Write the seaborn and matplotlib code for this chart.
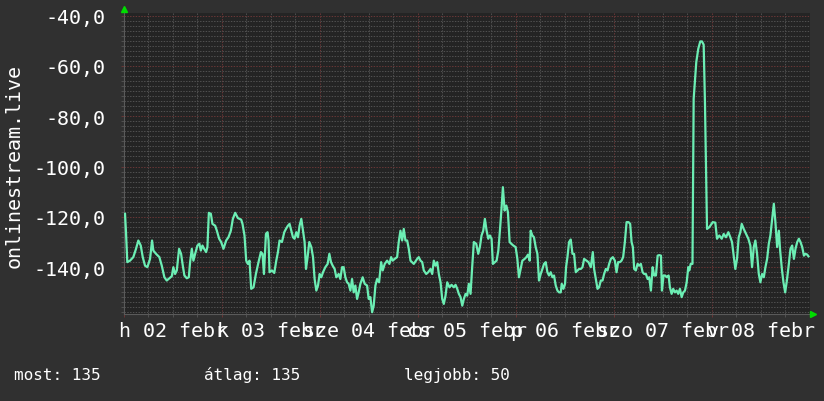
import matplotlib
matplotlib.use("Agg")
import matplotlib.pyplot as plt
from matplotlib.ticker import MultipleLocator, FuncFormatter
import seaborn as sns
import pandas as pd

# hours since Mon 02 Feb 00:00
hours = [
    0.25, 0.49, 0.81, 1.47, 2.28, 2.94, 3.51, 4.10, 4.59, 5.15, 5.72, 6.38, 6.87, 7.19, 7.85,
    8.66, 9.25, 9.89, 10.47, 11.11, 11.70, 12.09, 12.51, 12.93, 13.49, 13.98, 14.40, 14.79,
    15.38, 15.87, 16.19, 16.61, 17.00, 17.42, 17.98, 18.47, 18.81, 19.21, 19.62, 20.11, 20.43,
    20.78, 21.27, 21.66, 22.32, 22.74, 23.30, 23.79, 24.36, 25.02, 25.58, 26.17, 26.66, 27.23,
    27.89, 28.70, 29.02, 29.51, 29.93, 30.34, 30.74, 31.15, 31.72, 32.30, 32.94, 33.53, 33.92,
    34.27, 34.76, 35.15, 35.40, 35.64, 36.23, 36.80, 37.29, 37.70, 38.09, 38.68, 39.25, 39.66,
    40.15, 40.55, 40.96, 41.38, 41.77, 42.19, 42.61, 43.00, 43.42, 43.83, 44.23, 44.57, 44.96,
    45.38, 45.87, 46.29, 46.68, 47.10, 47.51, 47.91, 48.32, 48.74, 49.30, 49.87, 50.29, 50.70,
    51.10, 51.59, 52.00, 52.57, 52.98, 53.40, 53.79, 54.21, 54.63, 55.02, 55.44, 55.85, 56.25,
    56.66, 57.08, 57.47, 57.89, 58.45, 58.94, 59.53, 59.92, 60.34, 60.76, 61.15, 61.57, 61.98,
    62.47, 62.97, 63.36, 63.85, 64.44, 65.00, 65.42, 65.81, 66.30, 66.89, 67.28, 67.70, 68.12,
    68.51, 68.93, 69.35, 69.74, 70.16, 70.97, 71.80, 72.19, 72.61, 73.03, 73.42, 74.01, 74.50,
    75.06, 75.48, 75.87, 76.29, 76.71, 77.10, 77.52, 77.93, 78.32, 78.74, 79.16, 79.72, 80.21,
    80.78, 81.20, 81.61, 82.00, 82.42, 82.84, 83.23, 83.65, 84.06, 84.45, 84.87, 85.29, 85.68,
    86.26, 86.75, 87.15, 87.56, 87.98, 88.38, 88.80, 89.21, 89.60, 90.02, 90.34, 90.83, 91.25,
    91.67, 92.06, 92.48, 92.79, 93.21, 93.63, 94.02, 94.44, 94.86, 95.35, 95.91, 96.33, 96.72,
    97.14, 97.56, 98.12, 98.54, 98.93, 99.35, 99.59, 100.01, 100.40, 100.82, 101.24, 101.63,
    102.05, 102.47, 102.86, 103.28, 103.69, 104.09, 104.50, 104.92, 105.31, 105.73, 106.15,
    106.54, 106.96, 107.20, 107.62, 108.01, 108.26, 108.60, 108.99, 109.41, 109.83, 110.22,
    110.64, 111.06, 111.45, 111.87, 112.28, 112.68, 113.27, 113.76, 114.32, 114.81, 115.13,
    115.55, 115.96, 116.35, 116.77, 117.19, 117.58, 118.00, 118.42, 118.81, 119.23, 119.72,
    120.21, 120.62, 121.01, 121.43, 121.85, 122.24, 122.66, 123.08, 123.57, 123.96, 124.30,
    124.62, 124.94, 125.35, 125.77, 126.16, 126.58, 127.00, 127.39, 127.81, 128.23, 128.62,
    129.04, 129.46, 129.85, 130.27, 130.69, 131.08, 131.50, 131.74, 132.14, 132.53, 132.95,
    133.37, 133.69, 134.11, 134.50, 134.92, 135.34, 135.73, 136.15, 136.57, 136.96, 137.38,
    137.80, 138.19, 138.44, 138.78, 139.22, 139.51, 140.15, 140.64, 141.13, 141.55, 141.96,
    142.28, 142.78, 143.34, 144.18, 144.81, 145.23, 145.79, 146.38, 146.87, 147.43, 148.00,
    148.49, 148.90, 149.32, 149.71, 150.13, 150.54, 150.94, 151.28, 151.77, 152.34, 152.90,
    153.39, 153.81, 154.23, 154.62, 155.04, 155.46, 155.85, 156.27, 156.69, 157.08, 157.50,
    157.91, 158.30, 158.65, 159.14, 159.53, 159.95, 160.37, 160.69, 161.11, 161.50, 161.92,
    162.34, 162.73, 163.22, 163.64, 164.06, 164.45, 164.87, 165.28, 165.67, 166.09, 166.51,
    166.90, 167.32, 167.63,
]
signal = [
    -118.8, -126.1, -138.0, -137.4, -136.0, -132.7, -129.4, -131.4, -136.0, -139.4, -140.0,
    -136.7, -129.4, -133.4, -134.7, -136.0, -139.4, -144.0, -145.3, -144.4, -143.6, -140.0,
    -142.7, -141.3, -132.7, -134.7, -139.4, -143.3, -144.4, -144.0, -138.0, -132.7, -137.4,
    -134.7, -131.4, -130.7, -133.4, -131.4, -132.7, -134.0, -132.0, -118.4, -118.8, -122.8,
    -123.5, -125.5, -128.7, -130.0, -132.7, -129.4, -128.1, -125.5, -120.8, -118.4, -120.5,
    -121.1, -122.8, -127.4, -137.4, -138.7, -137.4, -148.6, -148.0, -142.7, -138.0, -134.0,
    -134.7, -142.7, -126.8, -126.1, -129.4, -142.0, -141.3, -142.3, -137.4, -134.0, -129.4,
    -130.0, -126.1, -124.8, -123.5, -122.8, -125.5, -128.1, -128.7, -126.1, -128.1, -123.5,
    -120.8, -125.5, -130.0, -140.7, -136.0, -130.0, -132.0, -136.0, -144.7, -149.3, -147.3,
    -142.7, -144.0, -142.0, -140.0, -138.7, -134.7, -138.0, -139.4, -140.7, -144.0, -142.7,
    -144.7, -140.0, -140.0, -144.0, -146.0, -146.6, -149.3, -144.7, -150.0, -147.3, -152.6,
    -150.0, -146.6, -144.0, -146.6, -147.3, -152.6, -151.9, -157.9, -155.3, -147.3, -144.7,
    -146.0, -138.0, -141.3, -138.7, -137.4, -138.7, -136.0, -137.4, -136.7, -136.0, -130.0,
    -125.5, -129.4, -124.8, -129.4, -129.4, -132.7, -137.4, -138.7, -136.7, -136.0, -137.4,
    -138.0, -141.3, -142.7, -142.0, -140.7, -142.7, -137.4, -139.4, -138.0, -142.7, -146.0,
    -152.6, -154.6, -151.3, -146.0, -148.0, -147.0, -148.0, -147.0, -148.6, -150.6, -151.9,
    -155.3, -152.6, -150.6, -151.3, -146.6, -150.6, -139.4, -130.0, -130.7, -134.7, -132.0,
    -127.4, -125.5, -120.8, -125.5, -128.7, -127.4, -128.7, -138.7, -138.0, -137.4, -133.4,
    -125.5, -116.1, -108.2, -117.5, -115.5, -118.1, -130.0, -130.7, -131.4, -132.0, -136.7,
    -144.0, -140.7, -137.4, -136.7, -136.0, -135.0, -137.4, -125.5, -127.4, -128.1, -132.0,
    -134.7, -145.3, -142.7, -140.7, -138.7, -138.0, -142.0, -143.3, -142.0, -144.0, -143.3,
    -147.3, -149.3, -150.0, -150.0, -146.6, -148.6, -146.6, -140.0, -136.0, -130.0, -129.0,
    -134.7, -134.7, -142.0, -141.3, -140.7, -140.7, -140.0, -136.7, -137.4, -138.0, -140.0,
    -134.0, -140.7, -144.7, -148.6, -148.0, -145.3, -145.3, -142.7, -140.7, -141.3, -138.7,
    -136.7, -136.0, -137.4, -142.0, -138.0, -138.0, -137.4, -136.0, -130.0, -122.1, -122.1,
    -122.8, -130.0, -132.0, -140.7, -141.3, -138.7, -139.4, -138.7, -142.0, -142.7, -142.7,
    -144.7, -144.0, -149.3, -140.0, -143.3, -143.3, -135.4, -135.2, -135.4, -149.3, -143.3,
    -143.3, -144.0, -143.3, -148.0, -150.6, -148.6, -150.0, -149.3, -150.6, -148.6, -151.9,
    -150.0, -149.3, -146.0, -140.0, -141.3, -138.7, -138.7, -73.1, -58.5, -53.2, -50.3,
    -50.3, -51.6, -75.0, -124.8, -124.1, -122.1, -122.3, -128.7, -127.4, -128.7, -126.8,
    -128.1, -126.1, -128.1, -130.0, -135.4, -140.7, -136.7, -128.1, -126.1, -122.8, -124.8,
    -126.8, -128.7, -131.4, -140.0, -132.0, -129.4, -134.7, -142.7, -146.0, -142.7, -144.0,
    -140.0, -136.7, -130.7, -127.4, -122.1, -114.8, -122.1, -132.0, -125.5, -133.4, -140.7,
    -146.0, -150.0, -145.3, -140.0, -132.7, -131.4, -136.7, -132.7, -130.0, -128.7, -130.0,
    -132.0, -135.4, -134.7, -135.0, -135.7,
]
day_labels = ["h 02 febr", "k 03 febr", "sze 04 febr", "cs 05 febr",
              "p 06 febr", "szo 07 febr", "v 08 febr"]
legend_texts = ["most: 135", "átlag: 135", "legjobb: 50"]
ylabel = "onlinestream.live"

BG = "#303030"
PLOT_BG = "#242424"
MINOR = "#505050"
MAJOR = "#683636"
LINE = "#6ceeb4"
ARROW = "#00dd00"

plt.rcParams["font.family"] = ["DejaVu Sans Mono"]

df = pd.DataFrame({"hours": hours, "signal": signal})

fig = plt.figure(figsize=(8.24, 4.02), dpi=100, facecolor=BG)
ax = fig.add_axes([124 / 824, 1 - 315 / 402, 686 / 824, 301 / 402])
ax.set_facecolor(PLOT_BG)

sns.lineplot(data=df, x="hours", y="signal", ax=ax, color=LINE, linewidth=1.6, zorder=5)

ax.set_xlim(0, 168)
ax.set_ylim(-158.6, -39.0)

ax.xaxis.set_major_locator(MultipleLocator(24))
ax.xaxis.set_minor_locator(MultipleLocator(6))
ax.yaxis.set_major_locator(MultipleLocator(20))
ax.yaxis.set_minor_locator(MultipleLocator(2))
ax.yaxis.set_major_formatter(FuncFormatter(lambda v, p: f"{v:.1f}".replace(".", ",")))
ax.set_xticklabels([])

dots = (0, (1.4, 1.4))
ax.grid(which="minor", color=MINOR, linestyle=dots, linewidth=0.72)
ax.grid(which="major", color=MAJOR, linestyle=dots, linewidth=0.72)
ax.set_axisbelow(True)

ax.tick_params(axis="both", which="both", length=2, width=0.7, direction="out")
ax.tick_params(axis="both", which="minor", color=MINOR)
ax.tick_params(axis="both", which="major", color=MAJOR)
ax.tick_params(axis="y", labelsize=14.4, labelcolor="white", pad=11)

for side in ["top", "right"]:
    ax.spines[side].set_visible(False)
for side in ["left", "bottom"]:
    ax.spines[side].set_color("#5a5a5a")
    ax.spines[side].set_linewidth(0.8)

ax.set_xlabel("")
ax.set_ylabel("")

# day labels overlap in the original rrdtool output as well
for i, lab in enumerate(day_labels):
    ax.annotate(lab, xy=(12 + 24 * i, 0), xycoords=("data", "axes fraction"),
                xytext=(0, -5), textcoords="offset points", ha="center", va="top",
                fontsize=14.4, color="white", annotation_clip=False)

# rrdtool style arrows on the axes
ax.plot([0], [1.012], marker="^", color=ARROW, markersize=4.5, transform=ax.transAxes,
        clip_on=False, zorder=6)
ax.plot([1.004], [0], marker=">", color=ARROW, markersize=4.5, transform=ax.transAxes,
        clip_on=False, zorder=6)

fig.text(14 / 824, 1 - 166 / 402, ylabel, rotation=90, ha="center", va="center",
         fontsize=14.4, color="white")

for txt, cx in zip(legend_texts, [57.5, 252.5, 457]):
    fig.text(cx / 824, 1 - 380 / 402, txt, ha="center", va="baseline",
             fontsize=11.5, color="white")

fig.savefig("out.png", dpi=100, facecolor=BG)
